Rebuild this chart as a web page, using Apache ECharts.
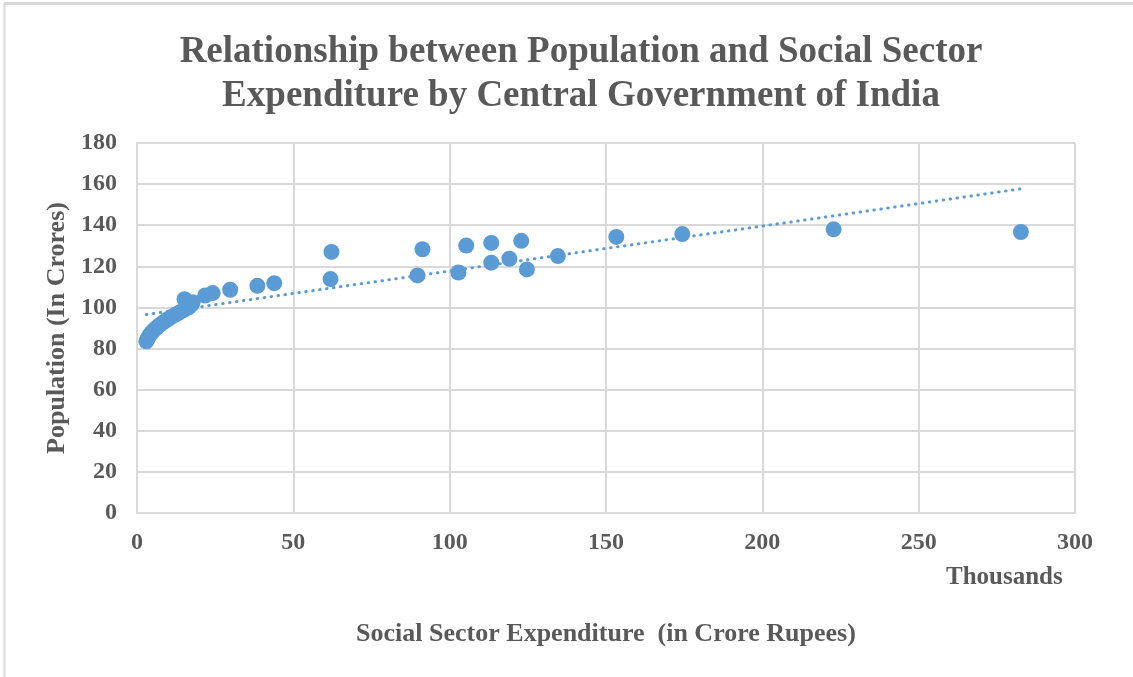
<!DOCTYPE html>
<html>
<head>
<meta charset="utf-8">
<script src="https://cdn.jsdelivr.net/npm/echarts@6/dist/echarts.min.js"></script>
<style>
  html, body { margin: 0; padding: 0; background: #ffffff; }
  #chart { width: 1133px; height: 677px; }
</style>
</head>
<body>
<div id="chart"></div>
<script>
// Social sector expenditure (thousand crore rupees) against population (crores)
var expenditure = [3.0, 3.4, 3.9, 4.6, 5.4, 6.3, 7.3, 8.4, 9.6, 10.8, 12.2, 13.6, 15.0, 16.5, 17.5,
  15.2, 17.8, 21.8, 24.2, 29.8, 38.5, 43.9, 61.9, 62.2, 89.7, 91.3, 102.8, 105.3,
  113.3, 113.3, 119.1, 122.9, 124.7, 134.6, 153.3, 174.4, 222.8, 282.7];
var population = [83.5, 84.8, 86.2, 87.6, 89.0, 90.2, 91.5, 92.7, 94.0, 95.2, 96.4, 97.6, 98.8, 100.0, 101.5,
  104.0, 102.5, 105.8, 107.0, 108.6, 110.5, 111.8, 113.8, 127.0, 115.6, 128.3, 117.0, 130.1,
  121.8, 131.4, 123.7, 132.4, 118.5, 125.0, 134.3, 135.7, 138.0, 136.7];

var xTicks = [0, 50, 100, 150, 200, 250, 300];
var yTicks = [0, 20, 40, 60, 80, 100, 120, 140, 160, 180];

var points = expenditure.map(function (x, i) { return [x, population[i]]; });

// Least-squares linear trend line over the data range
function linearTrend(xs, ys) {
  var n = xs.length, sx = 0, sy = 0, sxx = 0, sxy = 0;
  for (var i = 0; i < n; i++) {
    sx += xs[i]; sy += ys[i]; sxx += xs[i] * xs[i]; sxy += xs[i] * ys[i];
  }
  var slope = (n * sxy - sx * sy) / (n * sxx - sx * sx);
  var intercept = (sy - slope * sx) / n;
  var x0 = Math.min.apply(null, xs), x1 = Math.max.apply(null, xs);
  return [[x0, intercept + slope * x0], [x1, intercept + slope * x1]];
}
var trend = linearTrend(expenditure, population);

var serif = '"Liberation Serif", "Times New Roman", serif';
var textGray = '#595959';
var gridGray = '#d9d9d9';
var blue = '#5b9bd5';

var chart = echarts.init(document.getElementById('chart'), null, { renderer: 'canvas' });
chart.setOption({
  backgroundColor: '#ffffff',
  animation: false,
  title: {
    text: 'Relationship between Population and Social Sector\nExpenditure by Central Government of India',
    left: 576,
    textAlign: 'center',
    top: 25,
    textStyle: {
      fontFamily: serif, fontWeight: 'bold', fontSize: 37, color: textGray, lineHeight: 44
    }
  },
  graphic: [
    { type: 'line', shape: { x1: 4, y1: 3.5, x2: 1133, y2: 3.5 }, style: { stroke: gridGray, lineWidth: 3 } },
    { type: 'line', shape: { x1: 4.5, y1: 3, x2: 4.5, y2: 677 }, style: { stroke: gridGray, lineWidth: 2 } },
    {
      type: 'text', left: 946, top: 565,
      style: { text: 'Thousands', font: 'bold 25px ' + serif, fill: textGray }
    }
  ],
  grid: { left: 137, right: 58, top: 143, bottom: 164 },
  xAxis: {
    type: 'value',
    min: xTicks[0], max: xTicks[xTicks.length - 1], interval: 50,
    name: 'Social Sector Expenditure  (in Crore Rupees)',
    nameLocation: 'middle', nameGap: 108,
    nameTextStyle: { fontFamily: serif, fontWeight: 'bold', fontSize: 26, color: textGray },
    axisLine: { show: true, lineStyle: { color: gridGray, width: 2 } },
    axisTick: { show: false },
    axisLabel: { fontFamily: serif, fontWeight: 'bold', fontSize: 24, color: textGray, margin: 18 },
    splitLine: { show: true, lineStyle: { color: gridGray, width: 2 } }
  },
  yAxis: {
    type: 'value',
    min: yTicks[0], max: yTicks[yTicks.length - 1], interval: 20,
    name: 'Population (In Crores)',
    nameLocation: 'middle', nameGap: 66,
    nameTextStyle: { fontFamily: serif, fontWeight: 'bold', fontSize: 26, color: textGray },
    axisLine: { show: true, lineStyle: { color: gridGray, width: 2 } },
    axisTick: { show: false },
    axisLabel: { fontFamily: serif, fontWeight: 'bold', fontSize: 24, color: textGray, margin: 20 },
    splitLine: { show: true, lineStyle: { color: gridGray, width: 2 } }
  },
  series: [
    {
      type: 'scatter',
      data: points,
      symbol: 'circle',
      symbolSize: 16,
      itemStyle: { color: blue, opacity: 1 },
      z: 3
    },
    {
      type: 'line',
      data: trend,
      symbol: 'none',
      lineStyle: { color: blue, width: 3, type: [0.5, 6.5], cap: 'round' },
      z: 2
    }
  ]
});
</script>
</body>
</html>
